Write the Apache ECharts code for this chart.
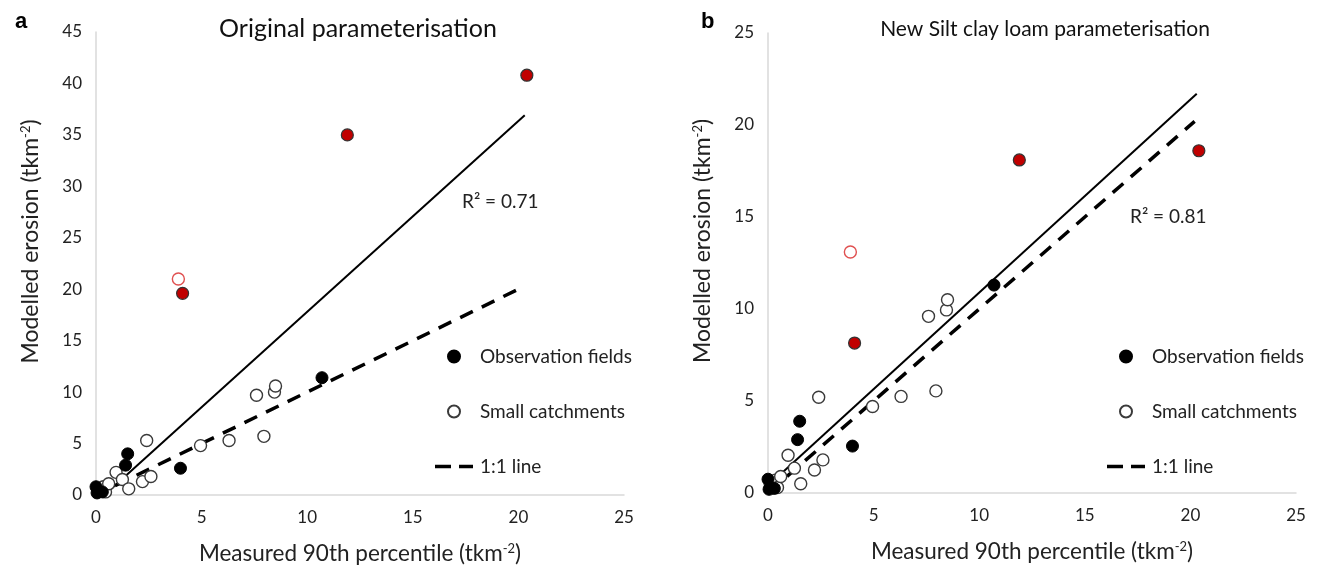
<!DOCTYPE html>
<html>
<head>
<meta charset="utf-8">
<script src="https://cdn.jsdelivr.net/npm/echarts@6/dist/echarts.min.js"></script>
<style>
  html, body { margin: 0; padding: 0; background: #fff; }
  #main { width: 1321px; height: 571px; }
</style>
</head>
<body>
<div id="main"></div>
<script>
// measured 90th percentile (x) shared by both panels
var obsX = [0.0, 0.05, 0.3, 1.4, 1.5, 4.0, 10.7];
var obsYOrig = [0.8, 0.2, 0.3, 2.9, 4.0, 2.6, 11.4];
var obsYNew = [0.75, 0.2, 0.25, 2.9, 3.9, 2.55, 11.3];

var redObsX = [4.1, 11.9, 20.4];
var redObsYOrig = [19.6, 35.0, 40.8];
var redObsYNew = [8.15, 18.1, 18.6];

var smallX = [0.1, 0.35, 0.45, 0.6, 0.95, 1.25, 1.55, 2.2, 2.4, 2.6, 4.95, 6.3, 7.6, 7.95, 8.45, 8.5];
var smallYOrig = [0.4, 0.8, 0.3, 1.1, 2.2, 1.5, 0.6, 1.3, 5.3, 1.8, 4.8, 5.3, 9.7, 5.7, 10.0, 10.6];
var smallYNew = [0.5, 0.7, 0.3, 0.9, 2.05, 1.35, 0.5, 1.25, 5.2, 1.8, 4.7, 5.25, 9.6, 5.55, 9.95, 10.5];

var redSmallX = [3.9];
var redSmallYOrig = [21.0];
var redSmallYNew = [13.1];

// fitted trend lines (end points) and 1:1 line
var trendXOrig = [0.4, 20.3];
var trendYOrig = [0, 36.9];
var trendXNew = [0.1, 20.3];
var trendYNew = [0.5, 21.7];
var oneX = [0.9, 20.2];
var oneY = [0.9, 20.2];

var xTicks = {min: 0, max: 25, interval: 5};
var yTicksOrig = {min: 0, max: 45, interval: 5};
var yTicksNew = {min: 0, max: 25, interval: 5};

function pairs(xs, ys) {
  return xs.map(function (x, i) { return [x, ys[i]]; });
}

var FONT = 'Lato, "Open Sans", sans-serif';
var axisGray = '#d9d9d9';
var supStyle = {fontFamily: FONT, fontSize: 13, color: '#222', padding: [0, 0, 11, 0]};

function xAxisFor(idx) {
  return {
    type: 'value', gridIndex: idx,
    min: xTicks.min, max: xTicks.max, interval: xTicks.interval,
    name: 'Measured 90th percentile (tkm{sup|-2})',
    nameLocation: 'middle', nameGap: 47,
    nameTextStyle: {fontFamily: FONT, fontSize: 22.5, color: '#222', rich: {sup: supStyle}},
    axisLine: {show: true, lineStyle: {color: axisGray, width: 1.5}},
    axisTick: {show: false},
    splitLine: {show: false},
    axisLabel: {fontFamily: FONT, fontSize: 17, color: '#222', margin: 14}
  };
}
function yAxisFor(idx, t) {
  return {
    type: 'value', gridIndex: idx,
    min: t.min, max: t.max, interval: t.interval,
    name: 'Modelled erosion (tkm{sup|-2})',
    nameLocation: 'middle', nameGap: 53, nameRotate: 90,
    nameTextStyle: {fontFamily: FONT, fontSize: 23, color: '#222', padding: [0, 0, 0, 44], rich: {sup: supStyle}},
    axisLine: {show: true, onZero: false, lineStyle: {color: axisGray, width: 1.5}},
    axisTick: {show: false},
    splitLine: {show: false},
    axisLabel: {fontFamily: FONT, fontSize: 17, color: '#222', margin: 14}
  };
}

function panelSeries(idx, d) {
  return [
    {name: '1:1 line', type: 'line', xAxisIndex: idx, yAxisIndex: idx,
      data: pairs(oneX, oneY), symbol: 'none', silent: true, z: 1,
      lineStyle: {color: '#000', width: 3.5, type: [14, 10]}, itemStyle: {color: '#000'}},
    {name: 'trend', type: 'line', xAxisIndex: idx, yAxisIndex: idx,
      data: pairs(d.trendX, d.trendY), symbol: 'none', silent: true, z: 1,
      lineStyle: {color: '#000', width: 2}},
    {name: 'Small catchments', type: 'scatter', xAxisIndex: idx, yAxisIndex: idx,
      data: pairs(smallX, d.smallY), symbolSize: 12, z: 3,
      itemStyle: {color: '#fff', borderColor: '#3a3a3a', borderWidth: 1.4, opacity: 1}},
    {name: 'Small catchments red', type: 'scatter', xAxisIndex: idx, yAxisIndex: idx,
      data: pairs(redSmallX, d.redSmallY), symbolSize: 12, z: 3,
      itemStyle: {color: '#fff', borderColor: '#e05050', borderWidth: 1.4, opacity: 1}},
    {name: 'Observation fields', type: 'scatter', xAxisIndex: idx, yAxisIndex: idx,
      data: pairs(obsX, d.obsY), symbolSize: 12, z: 4,
      itemStyle: {color: '#000', borderColor: '#000', borderWidth: 1, opacity: 1}},
    {name: 'Observation fields red', type: 'scatter', xAxisIndex: idx, yAxisIndex: idx,
      data: pairs(redObsX, d.redObsY), symbolSize: 12, z: 4,
      itemStyle: {color: '#c00000', borderColor: '#333', borderWidth: 1.2, opacity: 1}}
  ];
}

function legendAt(left) {
  return {
    orient: 'vertical', left: left, top: 341,
    itemWidth: 38, itemHeight: 12, itemGap: 34,
    selectedMode: false,
    textStyle: {fontFamily: FONT, fontSize: 19, color: '#222', lineHeight: 21, padding: [0, 0, 0, 2]},
    data: [
      {name: 'Observation fields', icon: 'circle'},
      {name: 'Small catchments', icon: 'circle'},
      {name: '1:1 line', icon: 'path://M0,0h16v3.5h-16zM24,0h14v3.5h-14z'}
    ]
  };
}

var chart = echarts.init(document.getElementById('main'));
chart.setOption({
  backgroundColor: '#fff',
  animation: false,
  title: [
    {text: 'a', left: 10, top: 6, textStyle: {fontFamily: 'Liberation Sans, Arial, sans-serif', fontSize: 22, fontWeight: 'bold', color: '#000'}},
    {text: 'b', left: 696, top: 6, textStyle: {fontFamily: 'Liberation Sans, Arial, sans-serif', fontSize: 22, fontWeight: 'bold', color: '#000'}},
    {text: 'Original parameterisation', left: 353, top: 11, textAlign: 'center',
      textStyle: {fontFamily: FONT, fontSize: 25, fontWeight: 'normal', color: '#111'}},
    {text: 'New Silt clay loam parameterisation', left: 1040, top: 14, textAlign: 'center',
      textStyle: {fontFamily: FONT, fontSize: 21, fontWeight: 'normal', color: '#111'}},
    {text: 'R² = 0.71', left: 457, top: 187,
      textStyle: {fontFamily: FONT, fontSize: 19, fontWeight: 'normal', color: '#222'}},
    {text: 'R² = 0.81', left: 1125, top: 202,
      textStyle: {fontFamily: FONT, fontSize: 19, fontWeight: 'normal', color: '#222'}}
  ],
  legend: [legendAt(430), legendAt(1102)],
  grid: [
    {left: 96, top: 32, width: 528, height: 463},
    {left: 768, top: 33, width: 528, height: 460}
  ],
  xAxis: [xAxisFor(0), xAxisFor(1)],
  yAxis: [yAxisFor(0, yTicksOrig), yAxisFor(1, yTicksNew)],
  series: panelSeries(0, {
    trendX: trendXOrig, trendY: trendYOrig, smallY: smallYOrig, redSmallY: redSmallYOrig,
    obsY: obsYOrig, redObsY: redObsYOrig
  }).concat(panelSeries(1, {
    trendX: trendXNew, trendY: trendYNew, smallY: smallYNew, redSmallY: redSmallYNew,
    obsY: obsYNew, redObsY: redObsYNew
  }))
});
</script>
</body>
</html>
